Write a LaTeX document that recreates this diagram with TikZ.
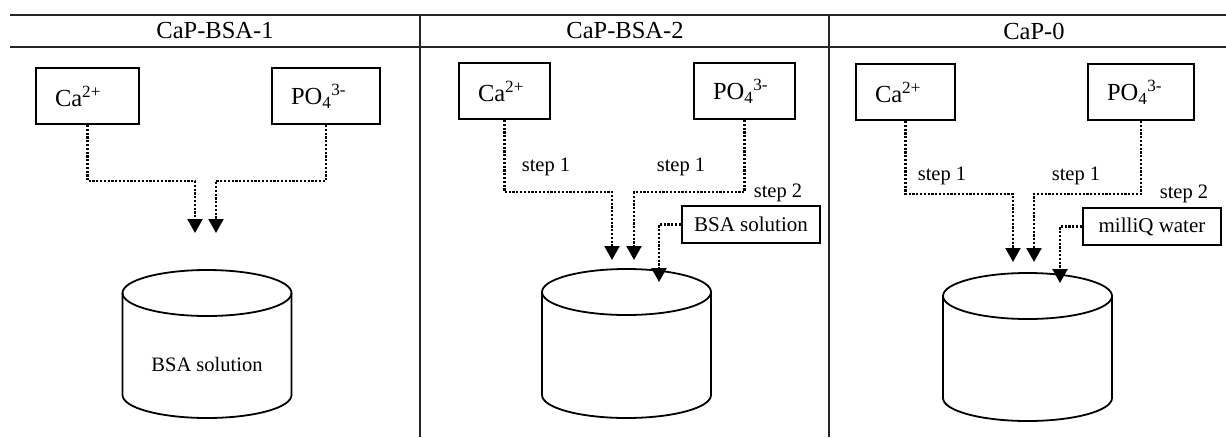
\documentclass[tikz,border=0pt]{standalone}
\usepackage{fontspec}
\setmainfont{Liberation Serif}
\usetikzlibrary{arrows.meta}

% cylinder: centre x, top-ellipse centre y, bottom-ellipse centre y
\newcommand\drawtank[3]{%
  \draw[tank] (#1,#2) ellipse [x radius=84.5pt, y radius=23pt];
  \draw[tank] (#1-84.5,#2) -- (#1-84.5,#3)
    arc[start angle=180, end angle=360, x radius=84.5pt, y radius=23pt]
    -- (#1+84.5,#2);
}

\begin{document}
\begin{tikzpicture}[x=1pt, y=-1pt,
  rule/.style={line width=1.4pt, black!85},
  head/.style={font=\fontsize{24.5}{28}\selectfont},
  ion/.style={draw, line width=2pt, minimum height=56pt, inner xsep=19pt,
    inner ysep=0pt, align=left, anchor=north west, font=\fontsize{24.5}{28}\selectfont},
  sol/.style={draw, line width=2pt, minimum width=138pt, minimum height=37pt,
    inner sep=0pt, anchor=north west, font=\fontsize{21}{24}\selectfont},
  lab/.style={font=\fontsize{20.5}{24}\selectfont, inner sep=0pt},
  tank/.style={line width=1.8pt},
  flow/.style={line width=2.2pt, dash pattern=on 2.2pt off 1.6pt,
    -{Triangle[length=14pt, width=15pt]}},
]
\useasboundingbox (0,0) rectangle (1226,437);

% table rules
\draw[rule] (10,15) -- (1226,15);
\draw[rule] (10,47) -- (1226,47);
\draw[rule] (420,15) -- (420,437);
\draw[rule] (829,15) -- (829,437);

% column headings
\node[head] (h1) at (215,31) {CaP-BSA-1};
\node[head] (h2) at (625,31) {CaP-BSA-2};
\node[head] (h3) at (1034,31) {CaP-0};

% ---- CaP-BSA-1 ----
\node[ion, text width=65pt] (ca1) at (35,67) {Ca\textsuperscript{2+}};
\node[ion, text width=70pt] (po1) at (271,67) {PO\textsubscript{4}\textsuperscript{3-}};
\drawtank{207}{293}{395}
\node[lab] (t1) at (207,364) {BSA solution};
\coordinate (in1a) at (195,233);
\coordinate (in1b) at (216,233);
\draw[flow] (ca1.south) -- ++(0,56) -| (in1a);
\draw[flow] (po1.south) -- ++(0,56) -| (in1b);

% ---- CaP-BSA-2 ----
\node[ion, text width=53pt] (ca2) at (458,62) {Ca\textsuperscript{2+}};
\node[ion, text width=63pt] (po2) at (693,62) {PO\textsubscript{4}\textsuperscript{3-}};
\node[sol] (s2) at (681,205) {BSA solution};
\drawtank{626.5}{292}{395}
\coordinate (in2a) at (612,260);
\coordinate (in2b) at (634,260);
\coordinate (in2c) at (659,282);
\draw[flow] (ca2.south) -- ++(0,72) -| (in2a);
\draw[flow] (po2.south) -- ++(0,72) -| (in2b);
\draw[flow] (s2.west) -| (in2c);
\node[lab] (l2a) at (546,167) {step 1};
\node[lab] (l2b) at (681,167) {step 1};
\node[lab] (l2c) at (778,193) {step 2};

% ---- CaP-0 ----
\node[ion, text width=61pt] (ca3) at (855,63) {Ca\textsuperscript{2+}};
\node[ion, text width=68pt] (po3) at (1087,63) {PO\textsubscript{4}\textsuperscript{3-}};
\node[sol] (s3) at (1082,207) {milliQ water};
\drawtank{1027.5}{296}{398}
\coordinate (in3a) at (1013,262);
\coordinate (in3b) at (1034,262);
\coordinate (in3c) at (1060,283);
\draw[flow] (ca3.south) -- ++(0,73) -| (in3a);
\draw[flow] (po3.south) -- ++(0,73) -| (in3b);
\draw[flow] (s3.west) -| (in3c);
\node[lab] (l3a) at (942,176) {step 1};
\node[lab] (l3b) at (1076,176) {step 1};
\node[lab] (l3c) at (1184,194) {step 2};
\end{tikzpicture}
\end{document}
